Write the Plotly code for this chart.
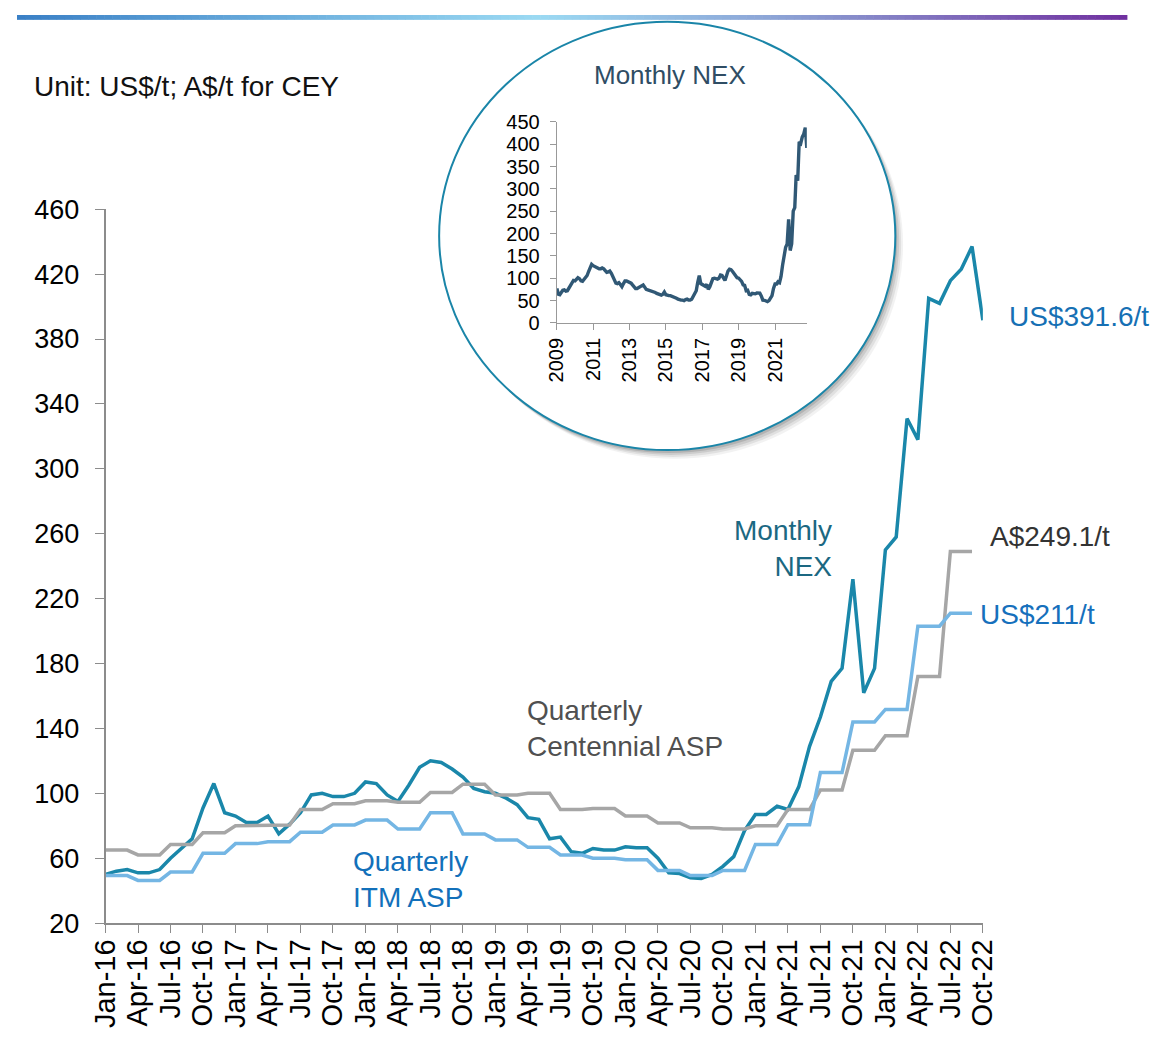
import plotly.graph_objects as go
import pandas as pd

W, H = 1171, 1043

# ---------------- DATA ----------------
months = pd.date_range("2016-01-01", "2022-10-01", freq="MS").strftime("%b-%y").tolist()
tick_labels = months[::3]

nex_monthly = [50, 52, 53, 51, 51, 53, 60, 66, 72, 91, 106, 88,
               86, 82, 82, 86, 75, 81, 88, 99, 100, 98, 98, 100,
               107, 106, 99, 95, 105, 116, 120, 119, 115, 110, 103, 101,
               100, 97, 93, 85, 84, 72, 73, 64, 63, 66, 65, 65,
               67, 66.5, 66.5, 60, 51, 50.5, 48, 47.5, 50, 55, 61, 77,
               87, 87, 92, 90, 104, 129, 147, 169, 177, 232, 162, 177,
               250, 258, 331, 318, 405, 402, 416, 423, 437, 391.6]

centennial_quarterly = [65, 62, 68.5, 75.7, 80, 80.5, 90, 93.6, 95.4, 94.5, 100.5, 105.6,
                        99, 100, 90, 90.6, 86, 81.7, 78.7, 78, 80, 90, 102, 126.5,
                        135.5, 172, 249.1]

itm_quarterly = [49.3, 46.3, 51.5, 63, 69, 70.2, 76, 80.5, 83.5, 78, 88, 75,
                 71.3, 66.7, 62, 60, 59, 52.5, 49.3, 52.5, 68.5, 80.7, 112.8, 144,
                 151.7, 203, 211]

nex_2009_2015 = [77, 64, 63, 68, 73, 74, 71, 72, 77, 84, 90, 95,
                 94, 98, 101, 99, 94, 93, 97, 101, 106, 115, 125, 131,
                 128, 126, 123, 122, 121, 121, 123, 121, 117, 113, 114, 116,
                 111, 104, 97, 89, 88, 90, 86, 81, 88, 94, 94, 93,
                 91, 89, 85, 79, 77, 77, 79, 83, 85, 85, 80, 75,
                 74, 73, 72, 70, 69, 68, 66, 64, 63, 62, 64, 69,
                 63, 61, 61, 61, 60, 59, 57, 55, 53, 51, 51, 51]

inset_years = ["2009", "2011", "2013", "2015", "2017", "2019", "2021"]

# quarterly series shown as monthly steps
centennial_monthly = [v for v in centennial_quarterly for _ in range(3)]
itm_monthly = [v for v in itm_quarterly for _ in range(3)]
inset_values = nex_2009_2015 + nex_monthly
inset_dates = pd.date_range("2009-01-01", periods=len(inset_values), freq="MS")

# ---------------- STYLE ----------------
FONT = "Arial, Liberation Sans, sans-serif"
TEAL = "rgb(26,135,170)"
LBLUE = "rgb(116,182,228)"
GREY = "rgb(166,166,166)"
AXIS = "rgb(140,140,140)"


def px(x):
    return x / W


def py(y):
    return (H - y) / H


fig = go.Figure()

fig.add_trace(go.Scatter(x=months, y=nex_monthly, mode="lines",
                         line=dict(color=TEAL, width=3.5), showlegend=False))
fig.add_trace(go.Scatter(x=months[:len(centennial_monthly)], y=centennial_monthly, mode="lines",
                         line=dict(color=GREY, width=3.5), showlegend=False))
fig.add_trace(go.Scatter(x=months[:len(itm_monthly)], y=itm_monthly, mode="lines",
                         line=dict(color=LBLUE, width=3.5), showlegend=False))

fig.add_trace(go.Scatter(x=inset_dates, y=inset_values, mode="lines",
                         line=dict(color="rgb(48,88,117)", width=3.4),
                         xaxis="x2", yaxis="y2", showlegend=False))

shapes = []
# top gradient bar
stops = [(0.0, (58, 128, 198)), (0.47, (155, 218, 243)), (0.7, (140, 160, 212)), (1.0, (112, 48, 160))]
nseg = 140
bar_end = 1141
for i in range(nseg):
    t = (i + 0.5) / nseg
    for j in range(len(stops) - 1):
        if stops[j][0] <= t <= stops[j + 1][0]:
            a, ca = stops[j]
            b, cb = stops[j + 1]
            f = (t - a) / (b - a)
            c = tuple(int(ca[k] + (cb[k] - ca[k]) * f) for k in range(3))
            break
    x0 = bar_end * i / nseg
    x1 = bar_end * (i + 1) / nseg + 0.6
    shapes.append(dict(type="rect", xref="paper", yref="paper",
                       x0=px(x0), x1=px(x1), y0=py(5), y1=py(0),
                       line=dict(width=0), fillcolor="rgb(%d,%d,%d)" % c, layer="below"))

# circle shadow
cx0, cx1, cy0, cy1 = 434, 903, 7, 448
for dx, dy, op in [(8, 9, 0.05), (6, 7, 0.07), (4, 5, 0.09), (2, 3, 0.12)]:
    shapes.append(dict(type="circle", xref="paper", yref="paper",
                       x0=px(cx0 + dx), x1=px(cx1 + dx), y0=py(cy1 + dy), y1=py(cy0 + dy),
                       line=dict(width=0), fillcolor="rgba(0,0,0,%s)" % op, layer="below"))
shapes.append(dict(type="circle", xref="paper", yref="paper",
                   x0=px(cx0), x1=px(cx1), y0=py(cy1), y1=py(cy0),
                   line=dict(color="rgb(26,133,168)", width=2), fillcolor="white", layer="below"))

annotations = [
    dict(text="Unit: US$/t; A$/t for CEY", x=px(15), y=py(74), xanchor="left", yanchor="middle",
         font=dict(size=28, color="#111")),
    dict(text="Monthly NEX", x=px(671), y=py(62), xanchor="center", yanchor="middle",
         font=dict(size=26, color="rgb(47,77,100)")),
    dict(text="Monthly<br>NEX", x=px(840), y=py(549), xanchor="right", yanchor="middle", align="right",
         font=dict(size=28, color="rgb(27,104,130)")),
    dict(text="US$391.6/t", x=px(1018), y=py(310), xanchor="left", yanchor="middle",
         font=dict(size=28, color="rgb(22,112,180)")),
    dict(text="A$249.1/t", x=px(998), y=py(537), xanchor="left", yanchor="middle",
         font=dict(size=28, color="#333")),
    dict(text="US$211/t", x=px(988), y=py(617), xanchor="left", yanchor="middle",
         font=dict(size=28, color="rgb(22,112,188)")),
    dict(text="Quarterly<br>Centennial ASP", x=px(522), y=py(735), xanchor="left", yanchor="middle", align="left",
         font=dict(size=28, color="rgb(80,80,80)")),
    dict(text="Quarterly<br>ITM ASP", x=px(343), y=py(890), xanchor="left", yanchor="middle", align="left",
         font=dict(size=28, color="rgb(18,112,186)")),
]
for a in annotations:
    a.update(xref="paper", yref="paper", showarrow=False)

fig.update_layout(
    width=W, height=H,
    margin=dict(l=0, r=0, t=0, b=0),
    paper_bgcolor="white", plot_bgcolor="rgba(0,0,0,0)",
    font=dict(family=FONT, color="#000"),
    shapes=shapes, annotations=annotations,
    xaxis=dict(type="category", categoryorder="array", categoryarray=months,
               domain=[px(91), px(993)], range=[0, len(months) - 1], anchor="y",
               tickmode="array", tickvals=tick_labels, ticktext=tick_labels, tickangle=-90,
               ticks="outside", ticklen=8, tickcolor=AXIS, tickwidth=1.2,
               showline=True, linecolor=AXIS, linewidth=1.5, showgrid=False, zeroline=False,
               ticklabelstandoff=-5,
               tickfont=dict(size=29, color="#000", family=FONT)),
    yaxis=dict(domain=[py(935), py(200)], range=[20, 460], anchor="x",
               tickmode="array", tickvals=list(range(20, 461, 40)),
               ticks="outside", ticklen=9, tickcolor=AXIS, tickwidth=1.2,
               showline=True, linecolor=AXIS, linewidth=1.5, showgrid=False, zeroline=False,
               ticklabelstandoff=10,
               tickfont=dict(size=27, color="#000", family=FONT)),
    xaxis2=dict(type="date", domain=[px(555), px(812)], anchor="y2",
                range=["2009-01-01", "2022-10-01"],
                tickmode="array", tickvals=[y + "-01-01" for y in inset_years], ticktext=inset_years,
                tickangle=-90, ticks="outside", ticklen=6, tickcolor="#999",
                showline=True, linecolor="#999", linewidth=1.2, showgrid=False, zeroline=False,
                tickfont=dict(size=20, color="#000", family=FONT)),
    yaxis2=dict(domain=[py(317), py(110)], anchor="x2", range=[0, 450],
                tickmode="array", tickvals=list(range(0, 451, 50)),
                ticks="outside", ticklen=6, tickcolor="#999",
                showline=True, linecolor="#999", linewidth=1.2, showgrid=False, zeroline=False,
                ticklabelstandoff=6,
                tickfont=dict(size=20, color="#000", family=FONT)),
)

post = (
    "document.documentElement.style.margin='0';"
    "document.documentElement.style.padding='0';"
    "document.documentElement.style.overflow='hidden';"
    "document.body.style.margin='0';"
    "document.body.style.padding='0';"
    "document.body.style.overflow='hidden';"
    "var d=document.getElementById('{plot_id}');"
    "d.style.position='fixed';d.style.left='0px';d.style.top='0px';"
)

fig.write_html("out.html", config={"displayModeBar": False}, post_script=post)
